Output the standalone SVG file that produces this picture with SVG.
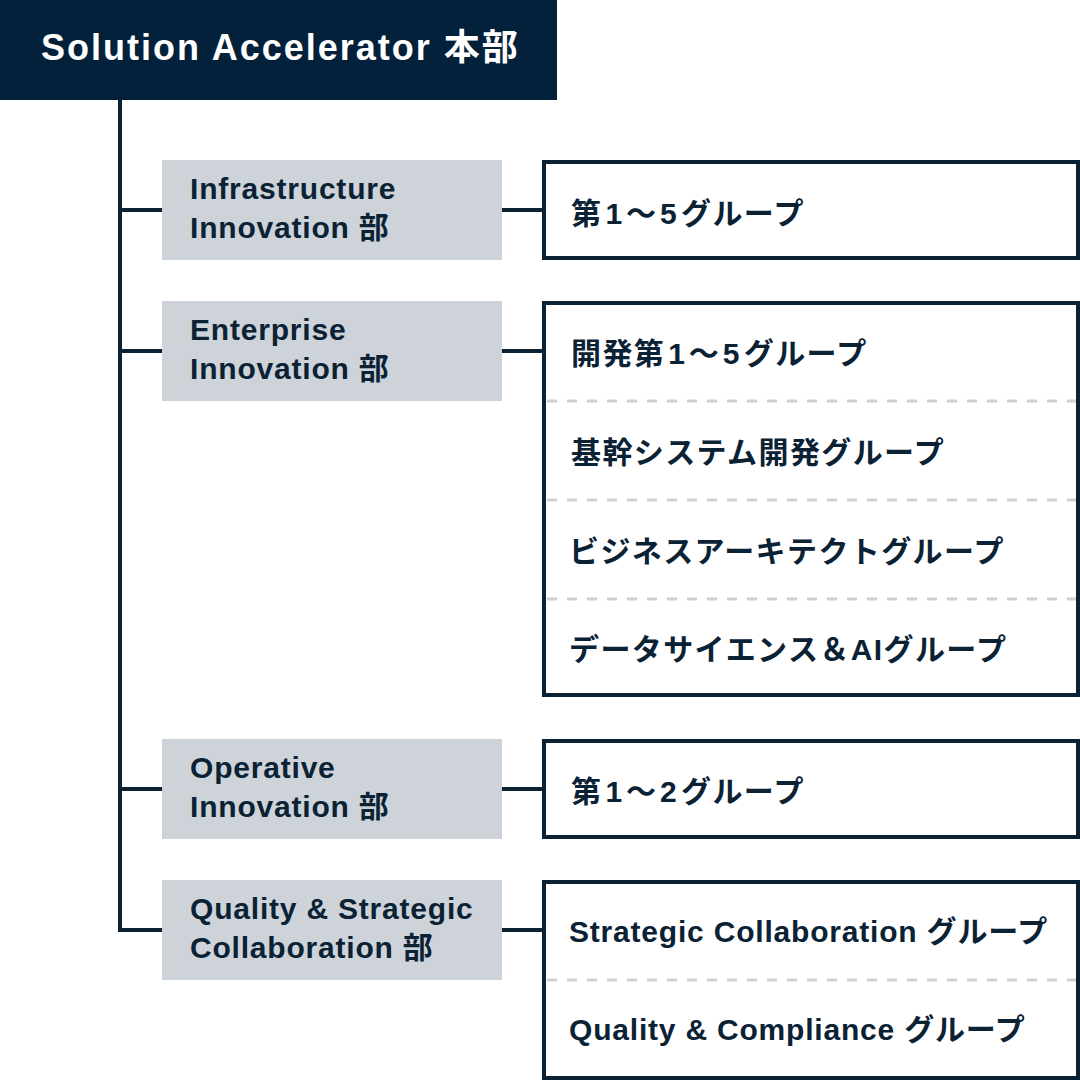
<svg xmlns="http://www.w3.org/2000/svg" width="1080" height="1080" viewBox="0 0 1080 1080">
<style>
  .bg { fill: #ffffff; }
  .head { fill: #03213a; }
  .headtxt { fill: #ffffff; font-family: "Liberation Sans", "Noto Sans CJK JP", sans-serif; font-weight: bold; font-size: 36px; letter-spacing: 2px; }
  .dept { fill: #cdd3d8; }
  .depttxt { fill: #0b2235; font-family: "Liberation Sans", "Noto Sans CJK JP", sans-serif; font-weight: bold; font-size: 30px; letter-spacing: 0.8px; }
  .grp { fill: #ffffff; stroke: #0b2235; stroke-width: 4; }
  .grptxt { fill: #0b2235; font-family: "Liberation Sans", "Noto Sans CJK JP", sans-serif; font-weight: bold; font-size: 30px; letter-spacing: 0.8px; }
  .jp { letter-spacing: 1.4px; }
  .sep { stroke: #cdd1d5; stroke-width: 3; stroke-dasharray: 10 10; fill: none; }
  .conn { stroke: #0b2235; stroke-width: 4; fill: none; }
</style>
<rect class="bg" x="0" y="0" width="1080" height="1080"/>

<g id="connectors">
  <path class="conn" d="M120 100 V932"/>
  <path class="conn" d="M118 210 H162 M502 210 H544"/>
  <path class="conn" d="M118 351 H162 M502 351 H544"/>
  <path class="conn" d="M118 789 H162 M502 789 H544"/>
  <path class="conn" d="M118 930 H162 M502 930 H544"/>
</g>

<g id="root">
  <rect class="head" x="0" y="0" width="557" height="100"/>
  <text class="headtxt" x="41" y="60">Solution Accelerator 本部</text>
</g>

<g id="dept-infrastructure">
  <rect class="dept" x="162" y="160" width="340" height="100"/>
  <text class="depttxt" x="190" y="199">Infrastructure</text>
  <text class="depttxt" x="190" y="238">Innovation 部</text>
</g>
<g id="groups-infrastructure">
  <rect class="grp" x="544" y="162" width="534" height="96"/>
  <text class="grptxt jp" x="571" y="224">第<tspan dx="3">1</tspan><tspan dx="2.5">～</tspan><tspan dx="2.5">5</tspan><tspan dx="3">グループ</tspan></text>
</g>

<g id="dept-enterprise">
  <rect class="dept" x="162" y="301" width="340" height="100"/>
  <text class="depttxt" x="190" y="340">Enterprise</text>
  <text class="depttxt" x="190" y="379">Innovation 部</text>
</g>
<g id="groups-enterprise">
  <rect class="grp" x="544" y="303" width="534" height="392"/>
  <path class="sep" d="M547 401 H1076 M547 500 H1076 M547 599 H1076"/>
  <text class="grptxt jp" x="571" y="364">開発第<tspan dx="3">1</tspan><tspan dx="2.5">～</tspan><tspan dx="2.5">5</tspan><tspan dx="3">グループ</tspan></text>
  <text class="grptxt jp" x="571" y="463">基幹システム開発グループ</text>
  <text class="grptxt jp" x="569" y="562">ビジネスアーキテクトグループ</text>
  <text class="grptxt jp" x="569" y="660">データサイエンス＆AIグループ</text>
</g>

<g id="dept-operative">
  <rect class="dept" x="162" y="739" width="340" height="100"/>
  <text class="depttxt" x="190" y="778">Operative</text>
  <text class="depttxt" x="190" y="817">Innovation 部</text>
</g>
<g id="groups-operative">
  <rect class="grp" x="544" y="741" width="534" height="96"/>
  <text class="grptxt jp" x="571" y="802">第<tspan dx="3">1</tspan><tspan dx="2.5">～</tspan><tspan dx="2.5">2</tspan><tspan dx="3">グループ</tspan></text>
</g>

<g id="dept-quality">
  <rect class="dept" x="162" y="880" width="340" height="100"/>
  <text class="depttxt" x="190" y="919">Quality &amp; Strategic</text>
  <text class="depttxt" x="190" y="958">Collaboration 部</text>
</g>
<g id="groups-quality">
  <rect class="grp" x="544" y="882" width="534" height="196"/>
  <path class="sep" d="M547 980 H1076"/>
  <text class="grptxt" x="569" y="942">Strategic Collaboration グループ</text>
  <text class="grptxt" x="569" y="1040">Quality &amp; Compliance グループ</text>
</g>
</svg>
